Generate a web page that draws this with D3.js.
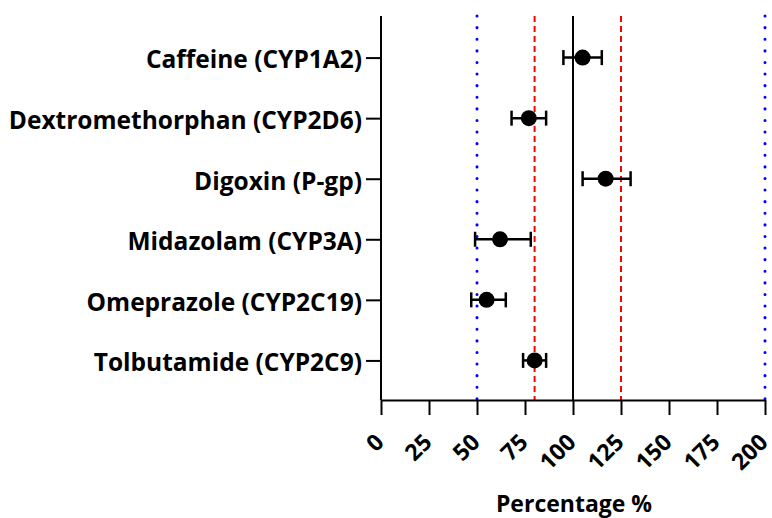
<!DOCTYPE html>
<html>
<head>
<meta charset="UTF-8">
<script src="https://d3js.org/d3.v7.min.js"></script>
<style>
    body { margin: 0; background: #fff; }
    text { font-family: "Open Sans", sans-serif; font-weight: bold; fill: #000; }
</style>
</head>
<body>
<svg id="chart"></svg>
<script>
    const drugs = ["Caffeine (CYP1A2)", "Dextromethorphan (CYP2D6)", "Digoxin (P-gp)",
                   "Midazolam (CYP3A)", "Omeprazole (CYP2C19)", "Tolbutamide (CYP2C9)"];
    const means = [105, 77, 117, 62, 55, 80];
    const lows  = [95, 68, 105, 49, 47, 74];
    const highs = [115, 86, 130, 78, 65, 86];
    const xTicks = [0, 25, 50, 75, 100, 125, 150, 175, 200];
    const redLines = [80, 125];
    const blueLines = [50, 200];
    const refLine = 100;

    const width = 772, height = 518;
    const margin = { top: 16, right: 7, bottom: 118, left: 381 };

    const svg = d3.select("#chart").attr("width", width).attr("height", height);

    const x = d3.scaleLinear().domain([0, 200]).range([margin.left, width - margin.right]);
    const y = d3.scalePoint().domain(drugs)
        .range([margin.top + 1, height - margin.bottom + 1]).padding(0.67);

    const yTop = margin.top, yBottom = height - margin.bottom;

    // reference lines
    svg.selectAll(".blue").data(blueLines).enter().append("line")
        .attr("x1", d => x(d)).attr("x2", d => x(d))
        .attr("y1", yTop).attr("y2", yBottom)
        .attr("stroke", "#0000ff").attr("stroke-width", 3)
        .attr("stroke-linecap", "round").attr("stroke-dasharray", "0.1 11.5");
    svg.selectAll(".red").data(redLines).enter().append("line")
        .attr("x1", d => x(d)).attr("x2", d => x(d))
        .attr("y1", yTop).attr("y2", yBottom)
        .attr("stroke", "#ff0000").attr("stroke-width", 2)
        .attr("stroke-dasharray", "6 4");
    svg.append("line")
        .attr("x1", x(refLine)).attr("x2", x(refLine))
        .attr("y1", yTop).attr("y2", yBottom)
        .attr("stroke", "#000").attr("stroke-width", 2);

    // axes
    const xAxis = svg.append("g")
        .attr("transform", `translate(0,${yBottom})`)
        .call(d3.axisBottom(x).tickValues(xTicks).tickSize(15).tickSizeOuter(0));
    xAxis.selectAll("path, line").attr("stroke", "#000").attr("stroke-width", 2);
    xAxis.selectAll("text")
        .attr("font-size", 23)
        .attr("text-anchor", "end")
        .attr("x", 0).attr("y", 0)
        .attr("dy", "0.72em")
        .attr("transform", "translate(-8,32) rotate(-45)");

    const yAxis = svg.append("g")
        .attr("transform", `translate(${margin.left},0)`)
        .call(d3.axisLeft(y).tickSize(15).tickSizeOuter(0).tickPadding(4));
    yAxis.select(".domain").attr("d", `M0,${yTop}V${yBottom}`);
    yAxis.selectAll("path, line").attr("stroke", "#000").attr("stroke-width", 2);
    yAxis.selectAll("text").attr("font-size", 24.5).attr("dy", "0.42em");

    svg.append("text")
        .attr("x", x(100) + 1).attr("y", 512)
        .attr("text-anchor", "middle")
        .attr("font-size", 23)
        .text("Percentage %");

    // error bars
    const rows = drugs.map((d, i) => ({ name: d, mean: means[i], lo: lows[i], hi: highs[i] }));
    const g = svg.append("g").attr("stroke", "#000").attr("stroke-width", 2.5);
    g.selectAll(".err").data(rows).enter().append("line")
        .attr("x1", d => x(d.lo)).attr("x2", d => x(d.hi))
        .attr("y1", d => y(d.name)).attr("y2", d => y(d.name));
    g.selectAll(".capL").data(rows).enter().append("line")
        .attr("x1", d => x(d.lo)).attr("x2", d => x(d.lo))
        .attr("y1", d => y(d.name) - 7.5).attr("y2", d => y(d.name) + 7.5);
    g.selectAll(".capR").data(rows).enter().append("line")
        .attr("x1", d => x(d.hi)).attr("x2", d => x(d.hi))
        .attr("y1", d => y(d.name) - 7.5).attr("y2", d => y(d.name) + 7.5);

    svg.selectAll(".dot").data(rows).enter().append("circle")
        .attr("cx", d => x(d.mean)).attr("cy", d => y(d.name))
        .attr("r", 8).attr("fill", "#000");
</script>
</body>
</html>
